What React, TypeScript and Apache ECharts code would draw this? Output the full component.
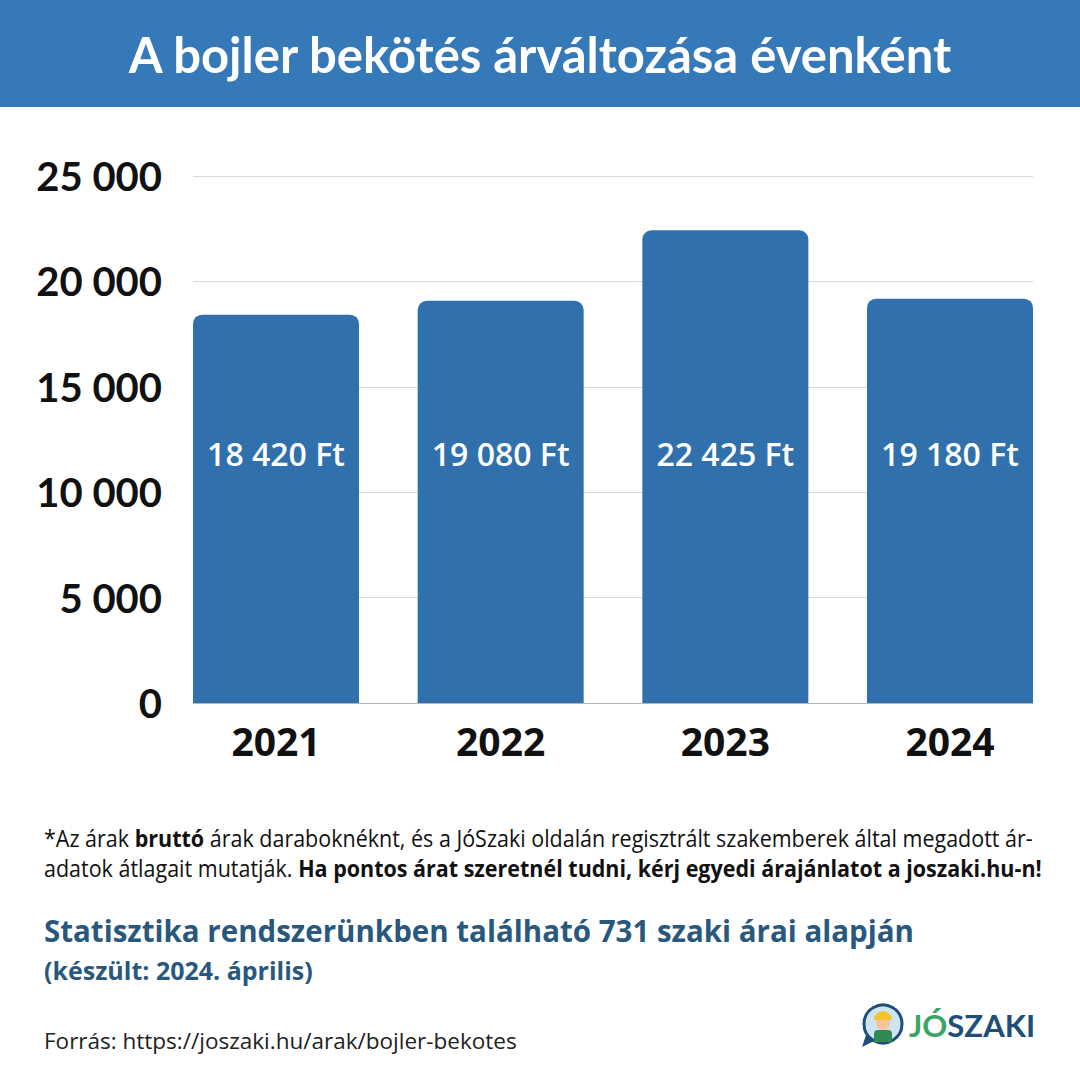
import React, { useEffect, useRef } from "react";
import * as echarts from "echarts";

const title = "A bojler bekötés árváltozása évenként";
const years = ["2021", "2022", "2023", "2024"];
const prices = [18420, 19080, 22425, 19180];
const yTicks = [0, 5000, 10000, 15000, 20000, 25000];
const labelLevel = 11850;
const noteLine1 = [
  ["n", "*Az árak "],
  ["b", "bruttó"],
  ["n", " árak daraboknéknt, és a JóSzaki oldalán regisztrált szakemberek által megadott ár-"],
];
const noteLine2 = [
  ["n", "adatok átlagait mutatják. "],
  ["b", "Ha pontos árat szeretnél tudni, kérj egyedi árajánlatot a joszaki.hu-n!"],
];
const statLine = "Statisztika rendszerünkben található 731 szaki árai alapján";
const dateLine = "(készült: 2024. április)";
const sourceLine = "Forrás: https://joszaki.hu/arak/bojler-bekotes";

const fmt = (v: number) => {
  const s = Math.round(v).toString();
  return s.replace(/\B(?=(\d{3})+(?!\d))/g, " ");
};

const HEADER = "#3579b8";
const BAR = "#2f70ad";
const TEAL = "#29587e";
const HEAD_FONT = "Lato";
const BODY_FONT = "'Open Sans'";

export default function App() {
  const ref = useRef<HTMLDivElement>(null);
  useEffect(() => {
    document.body.style.margin = "0";
    const chart = echarts.init(ref.current!, null, { renderer: "svg" });
    const richText = (parts: string[][]) =>
      parts.map(([k, t]) => `{${k}|${t}}`).join("");
    const noteRich = {
      n: { fontFamily: BODY_FONT, fontSize: 23, fontWeight: 400, fill: "#111" },
      b: { fontFamily: BODY_FONT, fontSize: 23, fontWeight: 700, fill: "#111" },
    };
    const yMax = yTicks[yTicks.length - 1];
    const option: any = {
      animation: false,
      backgroundColor: "#ffffff",
      grid: [
        { left: 193, right: 47, top: 176, bottom: 377 },
        { left: 163.67, right: 17.67, top: 176, bottom: 377 },
      ],
      xAxis: [
        {
          gridIndex: 0,
          type: "value",
          min: 0,
          max: 1,
          axisLine: { show: true, lineStyle: { color: "#b5b5b5", width: 1 } },
          axisTick: { show: false },
          axisLabel: { show: false },
          splitLine: { show: false },
        },
        {
          gridIndex: 1,
          type: "category",
          data: years,
          axisLine: { show: false },
          axisTick: { show: false },
          axisLabel: {
            margin: 18,
            fontFamily: BODY_FONT,
            fontWeight: "bold",
            fontSize: 39,
            color: "#111",
          },
        },
      ],
      yAxis: [
        {
          gridIndex: 0,
          type: "value",
          min: 0,
          max: yMax,
          interval: 5000,
          axisLine: { show: false },
          axisTick: { show: false },
          axisLabel: {
            margin: 31,
            fontFamily: HEAD_FONT,
            fontWeight: "bold",
            fontSize: 40,
            color: "#111",
            formatter: (v: number) => fmt(v),
          },
          splitLine: { lineStyle: { color: "#d9d9d9", width: 1 } },
        },
        {
          gridIndex: 1,
          type: "value",
          min: 0,
          max: yMax,
          show: false,
        },
      ],
      series: [
        {
          type: "bar",
          xAxisIndex: 1,
          yAxisIndex: 1,
          data: prices,
          barWidth: 166,
          itemStyle: { color: BAR, borderRadius: [9, 9, 0, 0] },
          z: 2,
        },
        {
          type: "scatter",
          xAxisIndex: 1,
          yAxisIndex: 1,
          symbolSize: 0,
          itemStyle: { opacity: 1 },
          data: prices.map((p, i) => [i, labelLevel]),
          z: 5,
          label: {
            show: true,
            position: "inside",
            fontFamily: BODY_FONT,
            fontWeight: 600,
            fontSize: 32,
            color: "#ffffff",
            opacity: 1,
            formatter: (p: any) => `${fmt(prices[p.dataIndex])} Ft`,
          },
        },
      ],
      graphic: [
        {
          type: "rect",
          shape: { x: 0, y: 0, width: 1080, height: 107 },
          style: { fill: HEADER },
          z: 0,
        },
        {
          type: "text",
          x: 540,
          y: 54,
          style: {
            text: title,
            fill: "#ffffff",
            fontFamily: HEAD_FONT,
            fontWeight: "bold",
            fontSize: 49,
            textAlign: "center",
            textVerticalAlign: "middle",
          },
        },
        {
          type: "text",
          x: 44,
          y: 838,
          scaleX: 0.935,
          style: {
            text: richText(noteLine1),
            rich: noteRich,
            textVerticalAlign: "middle",
          },
        },
        {
          type: "text",
          x: 44,
          y: 868,
          scaleX: 0.935,
          style: {
            text: richText(noteLine2),
            rich: noteRich,
            textVerticalAlign: "middle",
          },
        },
        {
          type: "text",
          x: 44,
          y: 930,
          style: {
            text: statLine,
            fill: TEAL,
            fontFamily: BODY_FONT,
            fontWeight: 700,
            fontSize: 29.5,
            textVerticalAlign: "middle",
          },
        },
        {
          type: "text",
          x: 44,
          y: 970,
          style: {
            text: dateLine,
            fill: TEAL,
            fontFamily: BODY_FONT,
            fontWeight: 700,
            fontSize: 25,
            textVerticalAlign: "middle",
          },
        },
        {
          type: "text",
          x: 44,
          y: 1040,
          style: {
            text: sourceLine,
            fill: "#222",
            fontFamily: BODY_FONT,
            fontWeight: 400,
            fontSize: 22.5,
            textVerticalAlign: "middle",
          },
        },
        {
          type: "group",
          x: 862,
          y: 1003,
          children: [
            {
              type: "polygon",
              shape: { points: [[4, 32], [0, 44], [12, 38]] },
              style: { fill: "#1f4e79" },
            },
            {
              type: "circle",
              shape: { cx: 21, cy: 21, r: 19 },
              style: { fill: "#cfe4f3", stroke: "#1f4e79", lineWidth: 3 },
            },
            {
              type: "rect",
              shape: { x: 12, y: 27, width: 18, height: 12, r: [4, 4, 0, 0] },
              style: { fill: "#2f8a55" },
            },
            {
              type: "circle",
              shape: { cx: 21, cy: 20, r: 7 },
              style: { fill: "#f1c49a" },
            },
            {
              type: "sector",
              shape: { cx: 21, cy: 17, r0: 0, r: 9, startAngle: Math.PI, endAngle: Math.PI * 2 },
              style: { fill: "#f4c430" },
            },
          ],
        },
        {
          type: "text",
          x: 909,
          y: 1025,
          style: {
            text: "{g|JÓ}{d|SZAKI}",
            rich: {
              g: { fontFamily: HEAD_FONT, fontWeight: "bold", fontSize: 31, fill: "#3aa566" },
              d: { fontFamily: HEAD_FONT, fontWeight: "bold", fontSize: 31, fill: "#1f4e79" },
            },
            textVerticalAlign: "middle",
          },
        },
      ],
    };
    chart.setOption(option);
    return () => chart.dispose();
  }, []);
  return <div ref={ref} style={{ width: 1080, height: 1080 }} />;
}
